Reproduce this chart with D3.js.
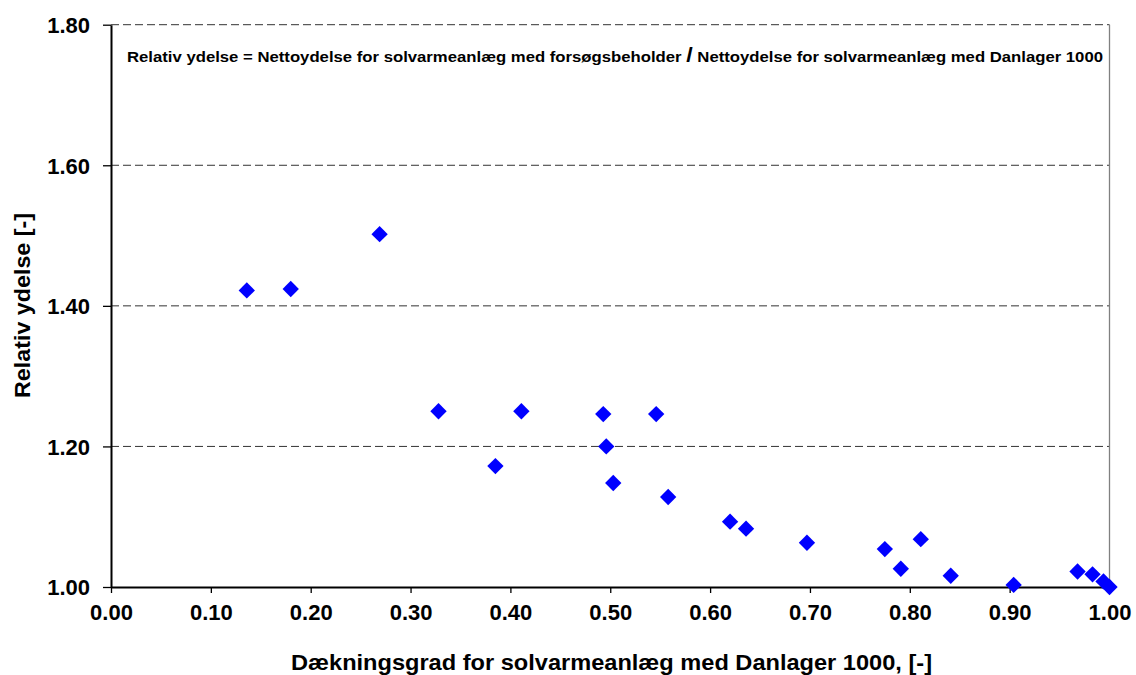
<!DOCTYPE html>
<html>
<head>
<meta charset="utf-8">
<script src="https://cdn.jsdelivr.net/npm/d3@7"></script>
<style>
  body { margin: 0; background: #fff; }
  text { font-family: "Liberation Sans", Arial, sans-serif; font-weight: bold; fill: #000; }
</style>
</head>
<body>
<script>
// Dækningsgrad (x) and relativ ydelse (y)
var coverage = [0.136, 0.180, 0.269, 0.328, 0.385, 0.411, 0.493, 0.496, 0.503, 0.546,
                0.558, 0.620, 0.636, 0.697, 0.775, 0.791, 0.811, 0.841, 0.904, 0.968,
                0.983, 0.994, 1.000]
var relYield = [1.422, 1.424, 1.502, 1.250, 1.172, 1.250, 1.246, 1.200, 1.148, 1.246,
                1.128, 1.093, 1.083, 1.063, 1.054, 1.026, 1.068, 1.016, 1.003, 1.022,
                1.018, 1.008, 1.000]
var xTicks = [0, 0.1, 0.2, 0.3, 0.4, 0.5, 0.6, 0.7, 0.8, 0.9, 1.0]
var yTicks = [1.0, 1.2, 1.4, 1.6, 1.8]

var points = coverage.map((x, i) => ({x: x, y: relYield[i]}))

var plotLeft = 111, plotRight = 1109.5, plotTop = 24.7, plotBottom = 587

var xScale = d3.scaleLinear().domain([0, 1]).range([plotLeft, plotRight])
var yScale = d3.scaleLinear().domain([1, 1.8]).range([plotBottom, plotTop])

var svg = d3.select("body")
            .append("svg")
            .attr("width", 1136)
            .attr("height", 675)

// dashed gridlines
svg.selectAll(".grid")
   .data(yTicks.filter(d => d > 1))
   .enter()
   .append("line")
   .attr("class", "grid")
   .attr("x1", plotLeft)
   .attr("x2", plotRight)
   .attr("y1", d => yScale(d))
   .attr("y2", d => yScale(d))
   .attr("stroke", "#333")
   .attr("stroke-width", 1)
   .attr("stroke-dasharray", "8,4")

// right border
svg.append("line")
   .attr("x1", plotRight).attr("x2", plotRight)
   .attr("y1", plotTop).attr("y2", plotBottom)
   .attr("stroke", "#808080")
   .attr("stroke-width", 1.3)

var xAxis = svg.append("g")
               .attr("transform", "translate(0," + plotBottom + ")")
               .call(d3.axisBottom(xScale)
                       .tickValues(xTicks)
                       .tickSize(6)
                       .tickSizeOuter(0)
                       .tickPadding(27)
                       .tickFormat(d3.format(".2f")))
xAxis.select(".domain").attr("stroke", "#000").attr("stroke-width", 2)
xAxis.selectAll(".tick line").attr("stroke", "#000").attr("stroke-width", 1.3)
xAxis.selectAll(".tick text").style("font-size", "22px").attr("dy", "0")

var yAxis = svg.append("g")
               .attr("transform", "translate(" + plotLeft + ",0)")
               .call(d3.axisLeft(yScale)
                       .tickValues(yTicks)
                       .tickSize(8)
                       .tickSizeOuter(0)
                       .tickPadding(13)
                       .tickFormat(d3.format(".2f")))
yAxis.select(".domain").attr("stroke", "#000").attr("stroke-width", 2)
yAxis.selectAll(".tick line").attr("stroke", "#000").attr("stroke-width", 1.3)
yAxis.selectAll(".tick text").style("font-size", "22px").attr("dy", "0.36em")

// diamond markers
svg.selectAll(".pt")
   .data(points)
   .enter()
   .append("path")
   .attr("class", "pt")
   .attr("d", d3.symbol().type(d3.symbolDiamond2).size(170))
   .attr("transform", d => "translate(" + xScale(d.x) + "," + yScale(d.y) + ")")
   .attr("fill", "#0000FF")

// axis titles
svg.append("text")
   .attr("x", 291)
   .attr("y", 670)
   .attr("textLength", 641)
   .attr("lengthAdjust", "spacingAndGlyphs")
   .style("font-size", "22px")
   .text("Dækningsgrad for solvarmeanlæg med Danlager 1000, [-]")

svg.append("text")
   .attr("transform", "translate(30,398) rotate(-90)")
   .attr("textLength", 185)
   .attr("lengthAdjust", "spacingAndGlyphs")
   .style("font-size", "22px")
   .text("Relativ ydelse [-]")

// definition note
var note = svg.append("text")
              .attr("x", 127)
              .attr("y", 62)
              .attr("textLength", 976)
              .attr("lengthAdjust", "spacingAndGlyphs")
              .style("font-size", "15px")
note.append("tspan").text("Relativ ydelse = Nettoydelse for solvarmeanlæg med forsøgsbeholder ")
note.append("tspan").style("font-size", "21px").text("/")
note.append("tspan").text(" Nettoydelse for solvarmeanlæg med Danlager 1000")
</script>
</body>
</html>
